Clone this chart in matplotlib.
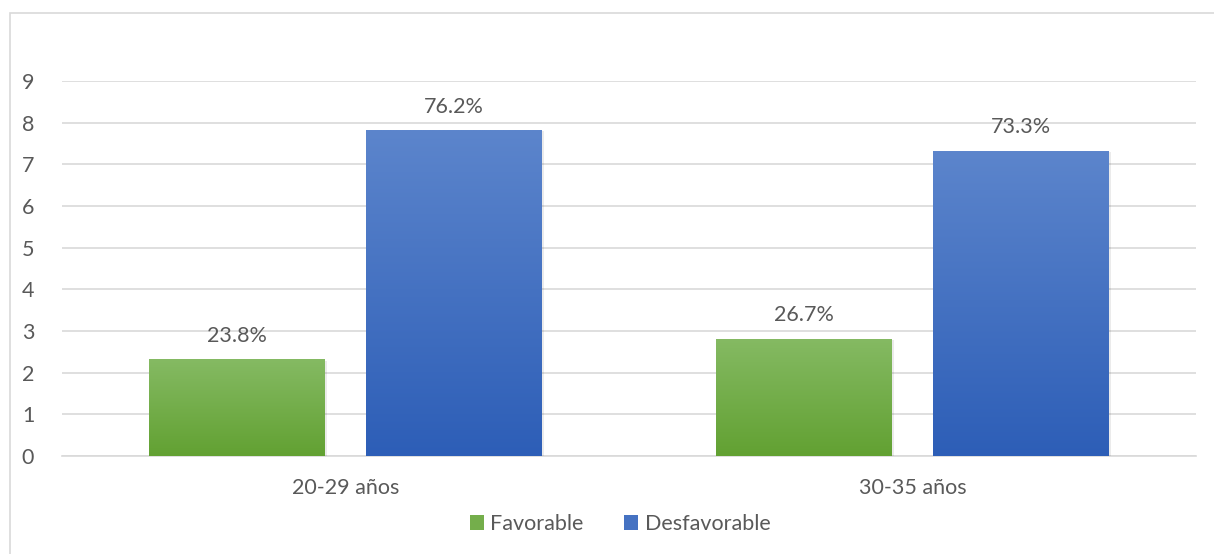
import numpy as np
import matplotlib
matplotlib.use("Agg")
import matplotlib.pyplot as plt
from matplotlib.patches import Rectangle
from matplotlib.colors import LinearSegmentedColormap

categories = ["20-29 años", "30-35 años"]
series_names = ["Favorable", "Desfavorable"]
favorable = [2.32, 2.82]
desfavorable = [7.82, 7.32]
labels_fav = ["23.8%", "26.7%"]
labels_des = ["76.2%", "73.3%"]
yticks = list(range(0, 10))

plt.rcParams['font.family'] = ['Lato', 'DejaVu Sans']
txt = '#595959'
fs = 15.5

fig = plt.figure(figsize=(12.14, 5.54), dpi=100)
ax = fig.add_axes([62/1214, 1-456/554, (1196-62)/1214, (456-81)/554])

# chart border
fig.patches.append(Rectangle((10/1214, -0.1), 1.2, 1 - 13/554 + 0.1, transform=fig.transFigure,
                             fill=False, edgecolor='#d9d9d9', linewidth=1.2))

x = np.arange(len(categories))
w = 0.31
off = w/2 + 0.036

grads = {
    "Favorable": LinearSegmentedColormap.from_list("g", ["#62a132", "#85ba63"]),
    "Desfavorable": LinearSegmentedColormap.from_list("b", ["#2d5eb7", "#5c85cc"]),
}
solid = {"Favorable": "#70ad47", "Desfavorable": "#4472c4"}

for name, vals, labs, sgn in [("Favorable", favorable, labels_fav, -1),
                              ("Desfavorable", desfavorable, labels_des, 1)]:
    bars = ax.bar(x + sgn*off, vals, width=w, color=solid[name], label=name, zorder=3)
    for b, lab in zip(bars, labs):
        x0, h = b.get_x(), b.get_height()
        grad = np.linspace(0, 1, 256).reshape(-1, 1)
        im = ax.imshow(grad, extent=[x0, x0 + b.get_width(), 0, h], origin='lower',
                       cmap=grads[name], aspect='auto', zorder=3.5)
        im.set_clip_path(b)
        ax.add_patch(Rectangle((x0 + 0.004, -0.03), b.get_width(), h, facecolor='#000000',
                               alpha=0.08, zorder=2.9, linewidth=0))
        ax.annotate(lab, (x0 + b.get_width()/2, h), xytext=(0, 17), textcoords='offset points',
                    ha='center', va='center', fontsize=fs, color=txt, zorder=5)

ax.set_xlim(-0.5, 1.5)
ax.set_ylim(0, 9)
ax.set_yticks(yticks)
ax.set_yticklabels([str(t) for t in yticks])
ax.set_xticks(x)
ax.set_xticklabels(categories)
ax.grid(axis='y', color='#d9d9d9', linewidth=1.2, zorder=0)
ax.set_axisbelow(True)
for s in ['top', 'right', 'left']:
    ax.spines[s].set_visible(False)
ax.spines['bottom'].set_color('#d9d9d9')
ax.spines['bottom'].set_linewidth(1.2)
ax.tick_params(axis='both', length=0, labelsize=fs, colors=txt)
ax.tick_params(axis='y', pad=20)
ax.tick_params(axis='x', pad=16)

handles = [Rectangle((0, 0), 1, 1, facecolor=grads[n](0.5)) for n in series_names]
leg = fig.legend(handles, series_names, loc='center', bbox_to_anchor=(620/1214, 1-524/554),
                 ncol=2, frameon=False, fontsize=fs, handlelength=0.65, handleheight=0.65,
                 handletextpad=0.3, columnspacing=1.9)
for t in leg.get_texts():
    t.set_color(txt)

fig.savefig("out.png", dpi=100)
